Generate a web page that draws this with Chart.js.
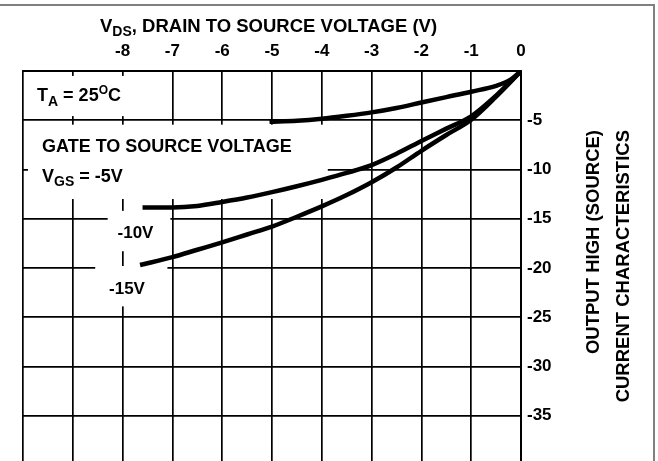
<!DOCTYPE html>
<html><head><meta charset="utf-8">
<script src="https://cdn.jsdelivr.net/npm/chart.js@4.4.0/dist/chart.umd.min.js"></script>
<style>html,body{margin:0;padding:0;background:#fff;overflow:hidden}#wrap{position:relative;width:658px;height:461px}</style>
</head><body><div id="wrap"><canvas id="c" width="658" height="461"></canvas></div>
<script>
// ---- data ----
const vdsLow  = [-5.05, -4.5, -4, -3.5, -3, -2.5, -2, -1.5, -1, -0.5, -0.2, 0];
const idLow   = [-5.15, -5.05, -4.85, -4.55, -4.2, -3.75, -3.2, -2.65, -2.1, -1.5, -0.85, 0];
const vdsMid  = [-7.6, -7, -6.5, -6, -5.5, -5, -4.5, -4, -3.5, -3, -2.5, -2, -1.5, -1, -0.5, 0];
const idMid   = [-13.85, -13.85, -13.7, -13.3, -12.85, -12.3, -11.7, -11.05, -10.35, -9.55, -8.4, -7.1, -5.85, -4.6, -2.5, 0];
const vdsHigh = [-7.65, -7, -6.5, -6, -5.5, -5, -4.5, -4, -3.5, -3, -2.5, -2, -1.5, -1, -0.5, 0];
const idHigh  = [-19.7, -18.9, -18.15, -17.4, -16.6, -15.8, -14.8, -13.75, -12.6, -11.3, -9.8, -8.1, -6.5, -4.95, -2.6, 0];
const xTickLabels = [-8, -7, -6, -5, -4, -3, -2, -1, 0];
const yTickLabels = [-5, -10, -15, -20, -25, -30, -35];

const FONT = '"Liberation Sans", Arial, sans-serif';
const pts = (xs, ys) => xs.map((v, i) => ({x: v, y: ys[i]}));

// white label backgrounds in data units [x0, x1, y0, y1]
const boxes = [
  [-9.9, -7.15, -0.5, -4.58],
  [-9.9, -3.88, -5.45, -13.0],
  [-8.3, -7.04, -14.2, -18.3],
  [-8.55, -7.1, -19.8, -23.9]
];

function runs(ctx, x, y, parts) {
  let cx = x;
  parts.forEach(([t, size, dy]) => {
    ctx.font = 'bold ' + size + 'px ' + FONT;
    ctx.fillText(t, cx, y + dy);
    cx += ctx.measureText(t).width;
  });
}

const annot = {
  id: 'annot',
  beforeDatasetsDraw(chart) {
    const {ctx, scales: {x, y}} = chart;
    ctx.save();
    ctx.fillStyle = '#fff';
    boxes.forEach(b => {
      const x0 = x.getPixelForValue(b[0]), x1 = x.getPixelForValue(b[1]);
      const y0 = y.getPixelForValue(b[2]), y1 = y.getPixelForValue(b[3]);
      ctx.fillRect(x0, y0, x1 - x0, y1 - y0);
    });
    ctx.restore();
  },
  afterDraw(chart) {
    const {ctx} = chart;
    ctx.save();
    ctx.fillStyle = '#000';
    ctx.textBaseline = 'alphabetic';
    ctx.textAlign = 'left';
    // axis title
    runs(ctx, 100, 32, [['V', 18.5, 0], ['DS', 14, 4], [', DRAIN TO SOURCE VOLTAGE (V)', 18.5, 0]]);
    // annotations
    runs(ctx, 37, 101, [['T', 18, 0], ['A', 14, 5], [' = 25', 18, 0], ['O', 12, -7], ['C', 18, 0]]);
    runs(ctx, 42, 152, [['GATE TO SOURCE VOLTAGE', 18, 0]]);
    runs(ctx, 42, 182, [['V', 18, 0], ['GS', 14, 4], [' = -5V', 18, 0]]);
    ctx.font = 'bold 17px ' + FONT;
    ctx.textAlign = 'center';
    ctx.fillText('-10V', 135.5, 238);
    ctx.fillText('-15V', 127, 294);
    // right-side title (rotated, reading upwards)
    ctx.font = 'bold 18.5px ' + FONT;
    ctx.textAlign = 'right';
    ctx.save(); ctx.translate(599, 130); ctx.rotate(-Math.PI / 2);
    ctx.fillText('OUTPUT HIGH (SOURCE)', 0, 0); ctx.restore();
    ctx.save(); ctx.translate(629, 130); ctx.rotate(-Math.PI / 2);
    ctx.fillText('CURRENT CHARACTERISTICS', 0, 0); ctx.restore();
    // outer frame
    ctx.strokeStyle = '#808080';
    ctx.lineWidth = 2;
    ctx.beginPath();
    ctx.moveTo(0, 5); ctx.lineTo(654, 5); ctx.lineTo(654, 461);
    ctx.stroke();
    ctx.restore();
  }
};

const ds = (data) => ({
  data, borderColor: '#000', borderWidth: 4.5, pointRadius: 0, fill: false,
  cubicInterpolationMode: 'monotone', borderCapStyle: 'butt'
});

new Chart(document.getElementById('c'), {
  type: 'line',
  data: { datasets: [ds(pts(vdsLow, idLow)), ds(pts(vdsMid, idMid)), ds(pts(vdsHigh, idHigh))] },
  options: {
    responsive: false, animation: false,
    layout: { padding: { left: 23, top: 0, right: 0, bottom: 0 } },
    plugins: { legend: { display: false }, tooltip: { enabled: false } },
    scales: {
      x: {
        type: 'linear', position: 'top', min: -10, max: 0,
        afterFit: s => { s.height = 71; s.paddingLeft = 0; s.paddingRight = 0; },
        ticks: { stepSize: 1, autoSkip: false, maxRotation: 0, padding: 9, color: '#000',
          font: { family: FONT, size: 17, weight: 'bold' },
          callback: v => xTickLabels.includes(v) ? String(v) : '' },
        grid: { color: '#000', lineWidth: 1.7, drawTicks: false },
        border: { color: '#000', width: 2 }
      },
      y: {
        type: 'linear', position: 'right', min: -39.6, max: 0,
        afterFit: s => { s.width = 137; s.paddingTop = 0; s.paddingBottom = 0; },
        ticks: { stepSize: 5, autoSkip: false, padding: 6, color: '#000',
          font: { family: FONT, size: 17, weight: 'bold' },
          callback: v => yTickLabels.includes(v) ? String(v) : '' },
        grid: { color: c => (c.tick && c.tick.value % 5 === 0) ? '#000' : 'rgba(0,0,0,0)', lineWidth: 1.7, drawTicks: false },
        border: { color: '#000', width: 2 }
      }
    }
  },
  plugins: [annot]
});
</script></body></html>
